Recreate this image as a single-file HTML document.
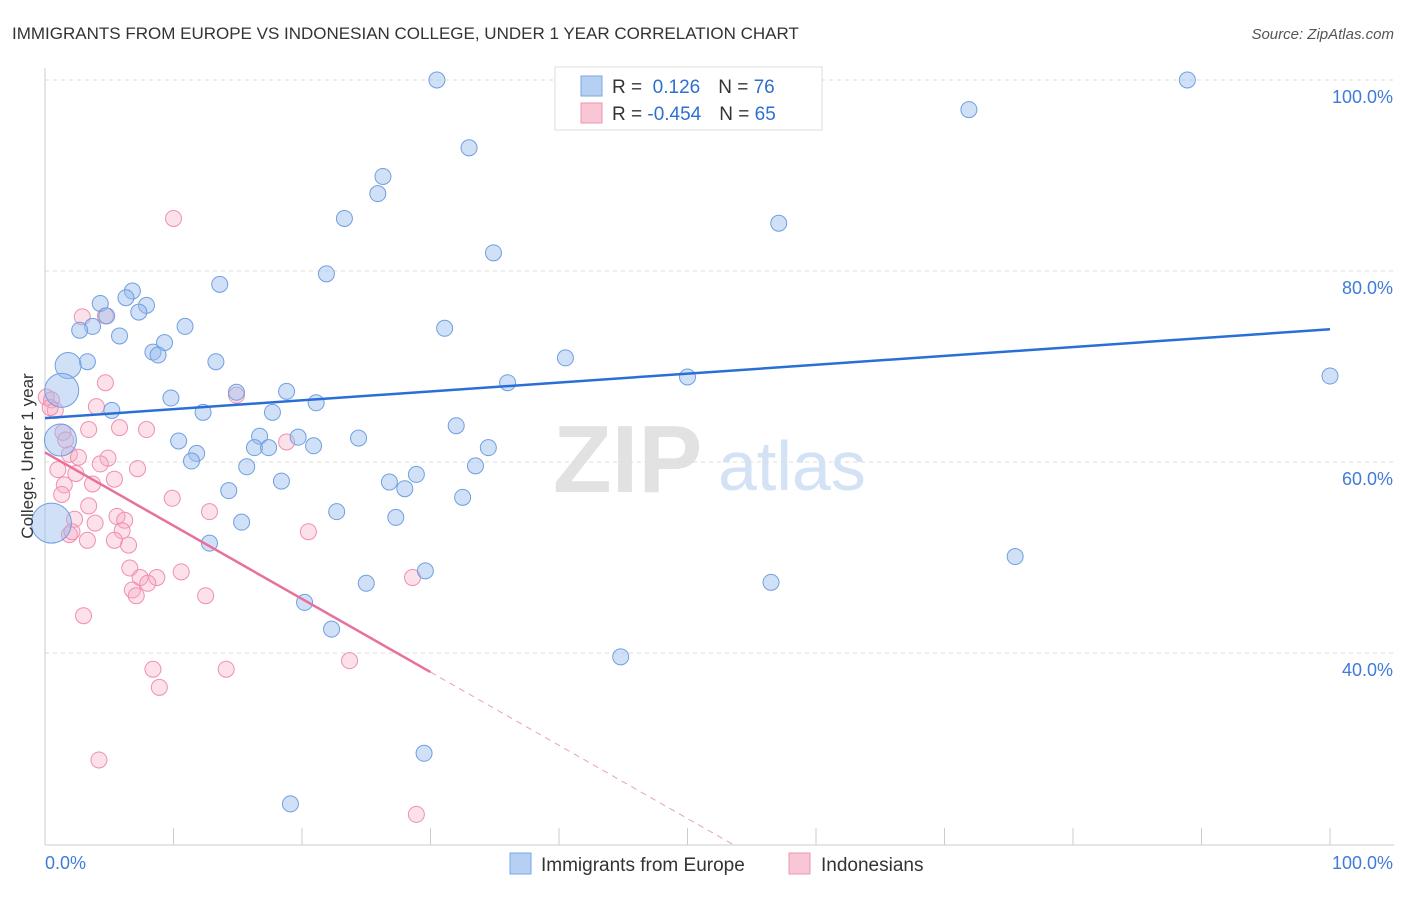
<!DOCTYPE html>
<html><head><meta charset="utf-8"><style>
body{margin:0;background:#fff;font-family:"Liberation Sans",sans-serif;}
svg text{font-family:"Liberation Sans",sans-serif;}
</style></head><body>
<svg id="chart" width="1406" height="892" viewBox="0 0 1406 892">
<text x="12" y="39" font-size="17" fill="#333">IMMIGRANTS FROM EUROPE VS INDONESIAN COLLEGE, UNDER 1 YEAR CORRELATION CHART</text>
<text x="1394" y="39" font-size="15" fill="#555" text-anchor="end" font-style="italic">Source: ZipAtlas.com</text>
<g>
<text x="553" y="492" font-size="96" fill="#e2e2e2" font-family="Liberation Serif" font-weight="bold">ZIP</text>
<text x="718" y="490" font-size="70" fill="#d3e2f5">atlas</text>
</g>
<g id="grid"></g>
<g id="axes"></g>
<g id="pts"></g>
<g id="lines"></g>
<text transform="translate(33,456) rotate(-90)" font-size="17" fill="#333" text-anchor="middle">College, Under 1 year</text>
<g>
<rect x="555" y="67" width="267" height="63" fill="#fff" stroke="#ddd"/>
<rect x="581" y="76" width="21" height="20" fill="#b6d0f3" stroke="#7aa6e6"/>
<rect x="581" y="103" width="21" height="20" fill="#f9c6d6" stroke="#f095b2"/>
<text x="612" y="93" font-size="19" fill="#333">R = <tspan fill="#2f6fd0">&#160;0.126</tspan><tspan dx="18">N = </tspan><tspan fill="#2f6fd0">76</tspan></text>
<text x="612" y="120" font-size="19" fill="#333">R = <tspan fill="#2f6fd0">-0.454</tspan><tspan dx="18">N = </tspan><tspan fill="#2f6fd0">65</tspan></text>
</g>
<g>
<rect x="510" y="853" width="21" height="21" fill="#b6d0f3" stroke="#7aa6e6"/>
<text x="541" y="871" font-size="19" fill="#333">Immigrants from Europe</text>
<rect x="789" y="853" width="21" height="21" fill="#f9c6d6" stroke="#f095b2"/>
<text x="821" y="871" font-size="19" fill="#333">Indonesians</text>
</g>
</svg>
<script>
const blueX=[30.5,47.6,88.9,71.9,33.0,26.3,25.9,23.3,57.1,34.9,21.9,13.6,6.8,4.3,6.3,7.9,7.3,4.8,3.7,2.7,10.9,31.1,5.8,9.3,8.4,8.8,40.5,13.3,3.3,1.8,1.3,50.0,100,36.0,14.9,18.8,9.8,21.1,5.2,12.3,17.7,32.0,16.7,19.7,24.4,10.4,20.9,16.3,17.4,34.5,11.8,11.4,15.7,33.5,28.9,18.4,26.8,28.0,14.3,32.5,22.7,27.3,15.3,0.5,12.8,75.5,29.6,25.0,56.5,20.2,22.3,44.8,29.5,19.1,1.2];
const blueY=[100,100,100,96.9,92.9,89.9,88.1,85.5,85.0,81.9,79.7,78.6,77.9,76.6,77.2,76.4,75.7,75.3,74.2,73.8,74.2,74.0,73.2,72.5,71.5,71.2,70.9,70.5,70.5,70.1,67.5,68.9,69.0,68.3,67.3,67.4,66.7,66.2,65.4,65.2,65.2,63.8,62.7,62.6,62.5,62.2,61.7,61.5,61.5,61.5,60.9,60.1,59.5,59.6,58.7,58.0,57.9,57.2,57.0,56.3,54.8,54.2,53.7,53.6,51.5,50.1,48.6,47.3,47.4,45.3,42.5,39.6,29.5,24.2,62.3];
const blueR=[8,8,8,8,8,8,8,8,8,8,8,8,8,8,8,8,8,8,8,8,8,8,8,8,8,8,8,8,8,13,17,8,8,8,8,8,8,8,8,8,8,8,8,8,8,8,8,8,8,8,8,8,8,8,8,8,8,8,8,8,8,8,8,20,8,8,8,8,8,8,8,8,8,8,16];
const pinkX=[10.0,2.9,4.7,4.7,0.1,0.5,0.8,0.4,4.0,14.9,1.4,5.8,7.9,3.4,18.8,1.6,1.9,2.6,4.9,4.3,7.2,1.0,2.4,3.7,1.5,5.4,1.3,9.9,3.4,12.8,5.6,6.2,3.9,2.3,6.0,1.9,3.3,5.4,6.5,20.5,6.6,7.4,8.7,10.6,8.0,6.8,7.1,12.5,28.6,3.0,23.7,8.4,14.1,8.9,4.2,28.9,2.1];
const pinkY=[85.5,75.2,75.3,68.3,66.8,66.5,65.4,65.7,65.8,67.0,63.1,63.6,63.4,63.4,62.1,62.3,60.8,60.5,60.4,59.8,59.3,59.2,58.8,57.7,57.6,58.2,56.6,56.2,55.4,54.8,54.3,53.9,53.6,54.0,52.8,52.4,51.8,51.8,51.3,52.7,48.9,47.9,47.9,48.5,47.3,46.6,46.0,46.0,47.9,43.9,39.2,38.3,38.3,36.4,28.8,23.1,52.7];
const blueLine=[64.6,73.9];
const pinkLine=[61.0,38.0];
const pinkSolidEnd=30;
const xTicks=[0,10,20,30,40,50,60,70,80,90,100];
const yTicks=[40,60,80,100];
const yTickLabels=["40.0%","60.0%","80.0%","100.0%"];
const X=v=>45+v*12.85, Y=v=>80+(100-v)*9.55;
const NS="http://www.w3.org/2000/svg";
function mk(p,t,a){const e=document.createElementNS(NS,t);for(const k in a)e.setAttribute(k,a[k]);document.getElementById(p).appendChild(e);return e;}
yTicks.forEach((t,i)=>{
 const g=mk('grid','line',{x1:45,x2:1394,y1:Y(t),y2:Y(t),stroke:'#dedede','stroke-dasharray':'4,4'});
 
 
 const l=mk('grid','text',{x:1393,y:Y(t)+23,'font-size':18,fill:'#3f7bd8','text-anchor':'end'});
 l.textContent=yTickLabels[i];
 
 
});
let a=mk('axes','line',{x1:45,x2:45,y1:68,y2:845,stroke:'#ccc'});


a=mk('axes','line',{x1:45,x2:1394,y1:845,y2:845,stroke:'#ccc'});


xTicks.forEach(t=>{const e=mk('axes','line',{x1:X(t),x2:X(t),y1:828,y2:845,stroke:'#ccc'});
 
 });
let tl=mk('axes','text',{x:45,y:869,'font-size':18,fill:'#3f7bd8'});tl.textContent=xTicks[0].toFixed(1)+'%';


tl=mk('axes','text',{x:1393,y:869,'font-size':18,fill:'#3f7bd8','text-anchor':'end'});tl.textContent=xTicks[xTicks.length-1].toFixed(1)+'%';


pinkX.forEach((x,i)=>{const c=mk('pts','circle',{cx:X(x),cy:Y(pinkY[i]),r:8,fill:'rgba(246,170,195,0.35)',stroke:'#f08fae','stroke-width':1});
 
 });
blueX.forEach((x,i)=>{const c=mk('pts','circle',{cx:X(x),cy:Y(blueY[i]),r:blueR[i],fill:'rgba(150,188,238,0.45)',stroke:'#6f9fe0','stroke-width':1});
 
 });
let ln=mk('lines','line',{x1:X(0),y1:Y(blueLine[0]),x2:X(100),y2:Y(blueLine[1]),stroke:'#2a6fd6','stroke-width':2.5});


const py=x=>pinkLine[0]+(pinkLine[1]-pinkLine[0])*x/pinkSolidEnd;
ln=mk('lines','line',{x1:X(0),y1:Y(pinkLine[0]),x2:X(pinkSolidEnd),y2:Y(pinkLine[1]),stroke:'#e8709a','stroke-width':2.5});


const xEnd=pinkSolidEnd*(pinkLine[0]-20)/(pinkLine[0]-pinkLine[1]);
ln=mk('lines','line',{x1:X(pinkSolidEnd),y1:Y(pinkLine[1]),x2:X(xEnd),y2:Y(py(xEnd)),stroke:'#e8a0b8','stroke-width':1,'stroke-dasharray':'6,5'});


</script>
</body></html>
